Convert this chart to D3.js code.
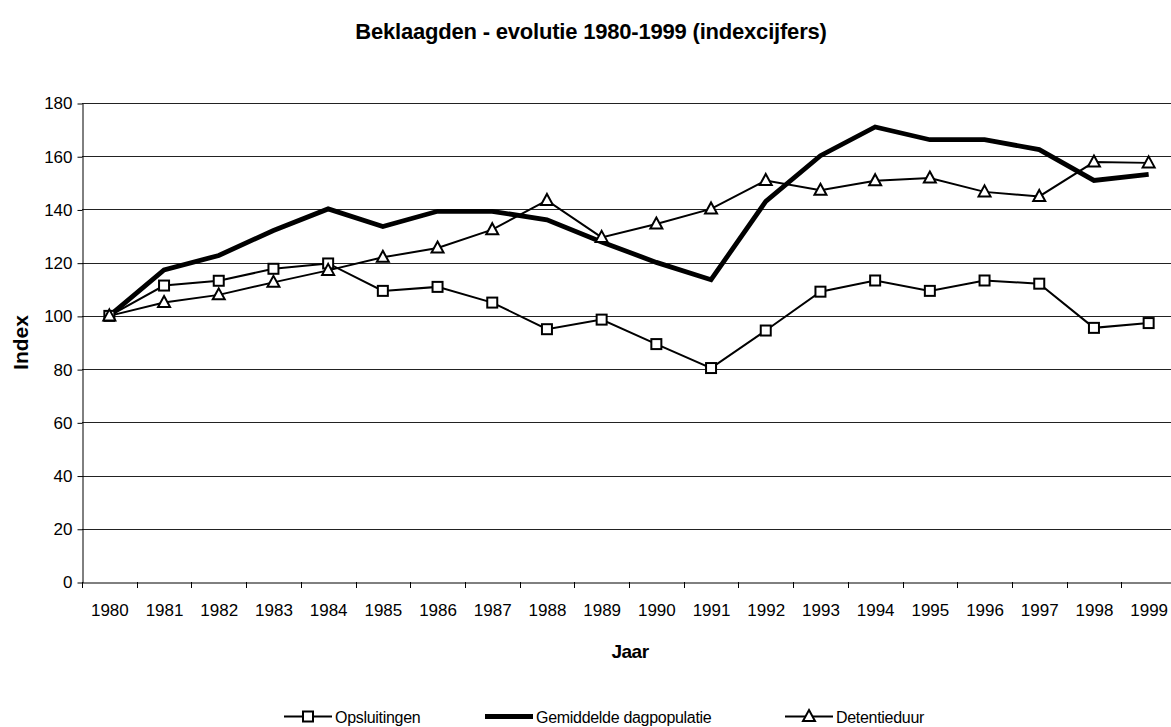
<!DOCTYPE html>
<html>
<head>
<meta charset="utf-8">
<script src="https://cdn.jsdelivr.net/npm/d3@7"></script>
<style>
  body { margin: 0; background: #fff; }
  text { font-family: "Liberation Sans", Arial, sans-serif; fill: #000; }
</style>
</head>
<body>
<div class="dataviz"><svg></svg></div>
<script>
// data
const years = ["1980","1981","1982","1983","1984","1985","1986","1987","1988","1989",
               "1990","1991","1992","1993","1994","1995","1996","1997","1998","1999"];
const opsluitingen = [100, 111.4, 113.2, 117.7, 119.7, 109.4, 110.9, 105.0, 95.0, 98.6,
                      89.4, 80.4, 94.5, 109.1, 113.3, 109.4, 113.3, 112.1, 95.5, 97.3];
const dagpopulatie = [100, 117.3, 122.7, 132.1, 140.2, 133.6, 139.3, 139.3, 136.1, 127.8,
                      120.1, 113.6, 143.0, 160.2, 171.0, 166.2, 166.2, 162.5, 150.9, 153.2];
const detentieduur = [100, 105.0, 107.9, 112.6, 117.1, 122.0, 125.5, 132.4, 143.4, 129.5,
                      134.5, 140.2, 150.9, 147.2, 150.8, 151.8, 146.6, 144.9, 157.8, 157.5];
const yTicks = [0, 20, 40, 60, 80, 100, 120, 140, 160, 180];
const seriesNames = ["Opsluitingen", "Gemiddelde dagpopulatie", "Detentieduur"];

width = 1171;
height = 727;
margin = ({top: 103, right: -5, bottom: 145, left: 82});

const svg = d3.select(".dataviz > svg")
    .attr("width", width)
    .attr("height", height);

x = d3.scaleBand()
  .domain(years)
  .range([margin.left, width - margin.right])
  .padding(0);

y = d3.scaleLinear()
  .domain([0, 180])
  .range([height - margin.bottom, margin.top]);

const cx = d => x(d) + x.bandwidth() / 2;

// gridlines
svg.append("g")
    .attr("class", "grid")
  .selectAll("line")
  .data(yTicks.slice(1))
  .join("line")
    .attr("x1", margin.left)
    .attr("x2", width)
    .attr("y1", d => Math.round(y(d)) + 0.5)
    .attr("y2", d => Math.round(y(d)) + 0.5)
    .attr("stroke", "#222")
    .attr("stroke-width", 1);

// y axis
svg.append("g")
    .attr("class", "y-axis")
    .attr("transform", `translate(${margin.left + 0.5},0.5)`)
    .call(d3.axisLeft(y).tickValues(yTicks).tickSize(5).tickPadding(5).tickSizeOuter(0))
    .call(g => g.selectAll("text").attr("font-size", 17).attr("font-family", null))
    .call(g => g.selectAll("line, path").attr("stroke", "#000"));

// x axis
svg.append("g")
    .attr("class", "x-axis")
    .attr("transform", `translate(0.5,${Math.round(y(0)) + 0.5})`)
    .call(d3.axisBottom(x).tickSize(0).tickPadding(21).tickSizeOuter(0))
    .call(g => g.selectAll("text").attr("font-size", 17).attr("font-family", null))
    .call(g => g.select(".domain").attr("stroke", "#000"));

// category tick marks between bands
svg.append("g")
    .attr("class", "x-ticks")
  .selectAll("line")
  .data(years)
  .join("line")
    .attr("x1", d => Math.round(x(d)) + 0.5)
    .attr("x2", d => Math.round(x(d)) + 0.5)
    .attr("y1", Math.round(y(0)))
    .attr("y2", Math.round(y(0)) + 6)
    .attr("stroke", "#000");

const line = vals => d3.line()
    .x((d, i) => cx(years[i]))
    .y(d => y(d))(vals);

// lines
svg.append("path")
    .attr("d", line(opsluitingen))
    .attr("fill", "none").attr("stroke", "#000").attr("stroke-width", 2);
svg.append("path")
    .attr("d", line(detentieduur))
    .attr("fill", "none").attr("stroke", "#000").attr("stroke-width", 2);
svg.append("path")
    .attr("d", line(dagpopulatie))
    .attr("fill", "none").attr("stroke", "#000").attr("stroke-width", 4.8)
    .attr("stroke-linejoin", "miter");

const triPath = "M0,-6.5L6,4.5L-6,4.5Z";

// markers
svg.append("g")
  .selectAll("rect")
  .data(opsluitingen)
  .join("rect")
    .attr("x", (d, i) => cx(years[i]) - 5)
    .attr("y", d => y(d) - 5)
    .attr("width", 10)
    .attr("height", 10)
    .attr("fill", "#fff")
    .attr("stroke", "#000")
    .attr("stroke-width", 2);

svg.append("g")
  .selectAll("path")
  .data(detentieduur)
  .join("path")
    .attr("transform", (d, i) => `translate(${cx(years[i])},${y(d)})`)
    .attr("d", triPath)
    .attr("fill", "#fff")
    .attr("stroke", "#000")
    .attr("stroke-width", 2);

// title and axis titles
svg.append("text")
    .attr("x", 591)
    .attr("y", 39)
    .attr("text-anchor", "middle")
    .attr("font-size", 22)
    .attr("font-weight", "bold")
    .attr("letter-spacing", "-0.2")
    .text("Beklaagden - evolutie 1980-1999 (indexcijfers)");

svg.append("text")
    .attr("transform", `translate(28,${(margin.top + y(0)) / 2}) rotate(-90)`)
    .attr("text-anchor", "middle")
    .attr("font-size", 21)
    .attr("font-weight", "bold")
    .text("Index");

svg.append("text")
    .attr("x", 630)
    .attr("y", 658)
    .attr("text-anchor", "middle")
    .attr("font-size", 19)
    .attr("font-weight", "bold")
    .attr("letter-spacing", "-0.5")
    .text("Jaar");

// legend
const legendX = [284, 485, 785];
const ly = 716.5;
const legend = svg.append("g").attr("class", "legend");
seriesNames.forEach((name, i) => {
  const g = legend.append("g").attr("transform", `translate(${legendX[i]},${ly})`);
  g.append("line")
      .attr("x1", 0).attr("x2", 48)
      .attr("stroke", "#000")
      .attr("stroke-width", i === 1 ? 4.8 : 2);
  if (i === 0) {
    g.append("rect").attr("x", 19).attr("y", -5).attr("width", 10).attr("height", 10)
      .attr("fill", "#fff").attr("stroke", "#000").attr("stroke-width", 2);
  } else if (i === 2) {
    g.append("path").attr("transform", "translate(24,0)").attr("d", triPath)
      .attr("fill", "#fff").attr("stroke", "#000").attr("stroke-width", 2);
  }
  g.append("text")
      .attr("x", 51)
      .attr("y", 6)
      .attr("font-size", 16)
      .attr("letter-spacing", "-0.3")
      .text(name);
});
</script>
</body>
</html>
